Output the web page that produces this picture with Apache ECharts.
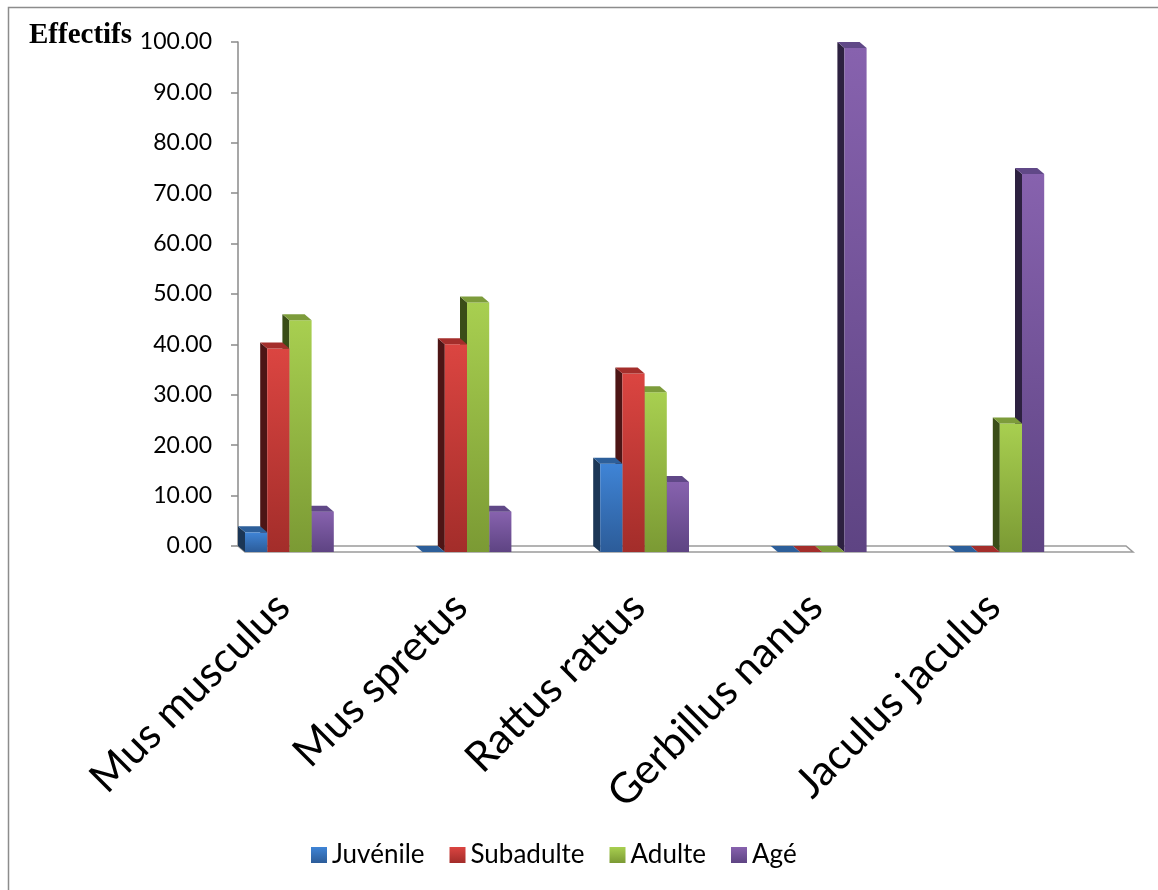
<!DOCTYPE html>
<html>
<head>
<meta charset="utf-8">
<script src="https://cdn.jsdelivr.net/npm/echarts@6/dist/echarts.min.js"></script>
<style>
  html, body { margin: 0; padding: 0; background: #ffffff; }
  #main { width: 1158px; height: 890px; }
</style>
</head>
<body>
<div id="main"></div>
<script>
// Species on the horizontal axis
const categories = ['Mus musculus', 'Mus spretus', 'Rattus rattus', 'Gerbillus nanus', 'Jaculus jaculus'];
// Age classes (percent of individuals per species)
const juvenile  = [3.9, 0, 17.5, 0, 0];
const subadulte = [40.4, 41.2, 35.4, 0, 0];
const adulte    = [46.0, 49.5, 31.7, 0, 25.5];
const age       = [8.0, 8.0, 13.9, 100, 75.0];
const seriesNames = ['Juvénile', 'Subadulte', 'Adulte', 'Agé'];
const seriesValues = [juvenile, subadulte, adulte, age];
// Value axis
const yMin = 0, yMax = 100, yStep = 10;

// Shading for each class: front gradient (top, bottom), side face, top face
const palettes = [
  { top: '#3f84d6', bottom: '#2c5c99', side: '#1b3656', cap: '#2d5f9a' },
  { top: '#db4541', bottom: '#a32d2a', side: '#4d1515', cap: '#a42e2b' },
  { top: '#a8cf50', bottom: '#7b9a34', side: '#3a4d18', cap: '#7d9c3b' },
  { top: '#8762ae', bottom: '#5e4483', side: '#2d2140', cap: '#604887' }
];

// Depth of the pseudo-3D extrusion (front plane offset from back wall)
const DX = 7, DY = 6;

function vGrad(c1, c2) {
  return new echarts.graphic.LinearGradient(0, 0, 0, 1, [
    { offset: 0, color: c1 }, { offset: 1, color: c2 }
  ]);
}

function barRenderer(s) {
  const pal = palettes[s];
  return function (params, api) {
    const cat = api.value(0);
    const v = api.value(1);
    const pt = api.coord([cat, v]);
    const p0 = api.coord([cat, 0]);
    const bw = api.size([1, 0])[0];
    const w = bw / 8;
    const x0 = pt[0] - bw / 2 + s * w;
    const yt = pt[1];
    const yb = p0[1];
    const children = [];
    if (yb - yt > 0.3) {
      children.push({
        type: 'polygon',
        shape: { points: [[x0, yt], [x0 + DX, yt + DY], [x0 + DX, yb + DY], [x0, yb]] },
        style: { fill: pal.side }
      });
      children.push({
        type: 'rect',
        shape: { x: x0 + DX, y: yt + DY, width: w, height: yb - yt },
        style: { fill: vGrad(pal.top, pal.bottom) }
      });
    }
    children.push({
      type: 'polygon',
      shape: { points: [[x0, yt], [x0 + w, yt], [x0 + w + DX, yt + DY], [x0 + DX, yt + DY]] },
      style: { fill: pal.cap }
    });
    return { type: 'group', children: children };
  };
}

const chart = echarts.init(document.getElementById('main'), null, { renderer: 'canvas' });

const series = [];
// floor of the plot
series.push({
  type: 'custom',
  name: 'floor',
  xAxisIndex: 0,
  yAxisIndex: 0,
  z: 1,
  silent: true,
  data: [[0, 0]],
  renderItem: function (params, api) {
    const cs = params.coordSys;
    const yb = cs.y + cs.height;
    return {
      type: 'polygon',
      shape: { points: [[cs.x, yb], [cs.x + cs.width, yb], [cs.x + cs.width + DX, yb + DY], [cs.x + DX, yb + DY]] },
      style: { fill: '#ffffff', stroke: '#9a9a9a', lineWidth: 1.5 }
    };
  }
});
seriesValues.forEach(function (vals, s) {
  series.push({
    type: 'custom',
    name: seriesNames[s],
    xAxisIndex: 0,
    yAxisIndex: 0,
    z: 10 - s,
    itemStyle: { color: vGrad(palettes[s].top, palettes[s].bottom) },
    data: vals.map(function (v, i) { return [i, v]; }),
    renderItem: barRenderer(s)
  });
});

chart.setOption({
  animation: false,
  backgroundColor: '#ffffff',
  graphic: [
    {
      type: 'polyline',
      shape: { points: [[8.5, 900], [8.5, 7.5], [1170, 7.5]] },
      style: { stroke: '#8c8c8c', lineWidth: 1.5, fill: null },
      silent: true
    },
    {
      type: 'text',
      left: 29,
      top: 21,
      style: {
        text: 'Effectifs',
        fill: '#000000',
        font: 'bold 29px "Liberation Serif"'
      }
    }
  ],
  legend: {
    data: seriesNames,
    left: 306,
    top: 837,
    icon: 'rect',
    itemWidth: 16,
    itemHeight: 16,
    itemGap: 25,
    textStyle: { fontFamily: 'Lato', fontSize: 26, color: '#000000' }
  },
  grid: [
    { left: 238, right: 32, top: 42, bottom: 344, outerBoundsMode: 'none', containLabel: false },
    { left: 194, right: 76, top: 42, bottom: 344, outerBoundsMode: 'none', containLabel: false }
  ],
  xAxis: [
    { type: 'category', gridIndex: 0, data: categories, show: false, boundaryGap: true },
    {
      type: 'category', gridIndex: 1, data: categories, boundaryGap: true,
      axisLine: { show: false }, axisTick: { show: false }, splitLine: { show: false },
      axisLabel: {
        rotate: 45, margin: 54, interval: 0,
        fontFamily: 'Lato', fontSize: 42, color: '#000000'
      }
    }
  ],
  yAxis: [
    {
      type: 'value', gridIndex: 0, min: yMin, max: yMax, interval: yStep,
      axisLine: { show: true, lineStyle: { color: '#8a8a8a', width: 1.5 } },
      axisTick: { show: true, length: 7, lineStyle: { color: '#8a8a8a', width: 1.5 } },
      splitLine: { show: false },
      axisLabel: {
        margin: 26, fontFamily: 'Lato', fontSize: 23, color: '#000000',
        formatter: function (v) { return v.toFixed(2); }
      }
    },
    { type: 'value', gridIndex: 1, min: yMin, max: yMax, interval: yStep, show: false }
  ],
  series: series
});
</script>
</body>
</html>
